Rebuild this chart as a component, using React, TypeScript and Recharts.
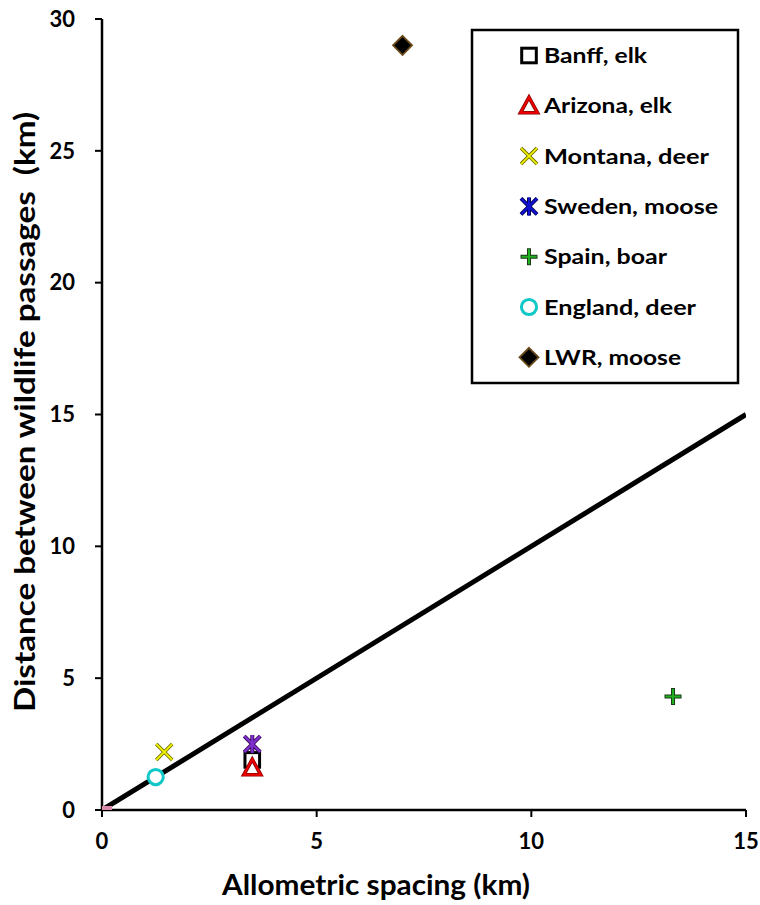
import React from "react";
import { ScatterChart, Scatter, XAxis, YAxis } from "recharts";

const seriesNames = ["Banff, elk", "Arizona, elk", "Montana, deer", "Sweden, moose", "Spain, boar", "England, deer", "LWR, moose"];
const banff = [{ x: 3.5, y: 1.9 }];
const arizona = [{ x: 3.5, y: 1.6 }];
const montana = [{ x: 1.45, y: 2.2 }];
const sweden = [{ x: 3.5, y: 2.5 }];
const spain = [{ x: 13.3, y: 4.3 }];
const england = [{ x: 1.25, y: 1.25 }];
const lwr = [{ x: 7.0, y: 29.0 }];
const origin = [{ x: 0, y: 0 }];
const oneToOne = [{ x: 0, y: 0 }, { x: 15, y: 15 }];
const xTicks = [0, 5, 10, 15];
const yTicks = [0, 5, 10, 15, 20, 25, 30];

const FONT = "Lato, 'Open Sans', sans-serif";
const legendTextWidths = [103, 128, 165, 174, 123, 152, 137];

const Square = (cx: number, cy: number) => (
  <rect x={cx - 7.3} y={cy - 7.3} width={14.6} height={14.6} fill="#fff" stroke="#000" strokeWidth={3} />
);
const Triangle = (cx: number, cy: number) => (
  <g>
    <polygon points={`${cx},${cy - 8.5} ${cx + 8.5},${cy + 7} ${cx - 8.5},${cy + 7}`} fill="#fff" stroke="#8a0000" strokeWidth={3.6} strokeLinejoin="miter" />
    <polygon points={`${cx},${cy - 8.5} ${cx + 8.5},${cy + 7} ${cx - 8.5},${cy + 7}`} fill="none" stroke="#F00000" strokeWidth={2} />
  </g>
);
const Cross = (cx: number, cy: number) => (
  <g>
    <path d={`M${cx - 8},${cy - 8}L${cx + 8},${cy + 8}M${cx - 8},${cy + 8}L${cx + 8},${cy - 8}`} stroke="#6b6b00" strokeWidth={3.6} />
    <path d={`M${cx - 8},${cy - 8}L${cx + 8},${cy + 8}M${cx - 8},${cy + 8}L${cx + 8},${cy - 8}`} stroke="#F0F000" strokeWidth={1.8} />
  </g>
);
const Star = (cx: number, cy: number, c: string, dark: string) => {
  const d = `M${cx - 8},${cy - 8}L${cx + 8},${cy + 8}M${cx - 8},${cy + 8}L${cx + 8},${cy - 8}M${cx},${cy - 9}L${cx},${cy + 9}`;
  return (
    <g>
      <path d={d} stroke={dark} strokeWidth={4} />
      <path d={d} stroke={c} strokeWidth={2.2} />
    </g>
  );
};
const Plus = (cx: number, cy: number) => (
  <g>
    <path d={`M${cx - 8.5},${cy}L${cx + 8.5},${cy}M${cx},${cy - 8.5}L${cx},${cy + 8.5}`} stroke="#1a3a1a" strokeWidth={4} />
    <path d={`M${cx - 7.5},${cy}L${cx + 7.5},${cy}M${cx},${cy - 7.5}L${cx},${cy + 7.5}`} stroke="#20B020" strokeWidth={2} />
  </g>
);
const Circle = (cx: number, cy: number) => (
  <circle cx={cx} cy={cy} r={7.6} fill="#fff" stroke="#10C8C8" strokeWidth={3} />
);
const Diamond = (cx: number, cy: number) => (
  <polygon points={`${cx},${cy - 9.5} ${cx + 9.5},${cy} ${cx},${cy + 9.5} ${cx - 9.5},${cy}`} fill="#000" stroke="#6a4a1a" strokeWidth={1.8} />
);

const shape = (fn: (cx: number, cy: number) => React.ReactElement) => (p: any) => fn(p.cx, p.cy);

const legendMarkers = [
  Square,
  Triangle,
  Cross,
  (cx: number, cy: number) => Star(cx, cy, "#1010D0", "#00004a"),
  Plus,
  Circle,
  Diamond,
];

export default function App() {
  return (
    <div style={{ position: "absolute", left: 0, top: 0, width: 760, height: 905, background: "#fff" }}>
      <ScatterChart width={760} height={905} margin={{ top: 19, right: 14, bottom: 35, left: 0 }}>
        <XAxis
          type="number"
          dataKey="x"
          domain={[0, 15]}
          ticks={xTicks}
          height={60}
          axisLine={{ stroke: "#000", strokeWidth: 2.5 }}
          tickLine={{ stroke: "#000", strokeWidth: 2 }}
          tickSize={7}
          tickMargin={16}
          tick={{ fill: "#000", fontSize: 22, fontWeight: 700, fontFamily: FONT }}
          allowDataOverflow
        />
        <YAxis
          type="number"
          dataKey="y"
          domain={[0, 30]}
          ticks={yTicks}
          width={102}
          axisLine={{ stroke: "#000", strokeWidth: 2.5 }}
          tickLine={{ stroke: "#000", strokeWidth: 2 }}
          tickSize={7}
          tickMargin={20}
          tick={{ fill: "#000", fontSize: 22, fontWeight: 700, fontFamily: FONT }}
          allowDataOverflow
        />
        <Scatter data={oneToOne} line={{ stroke: "#000", strokeWidth: 5 }} shape={() => <g />} isAnimationActive={false} />
        <Scatter data={origin} shape={(p: any) => <rect x={p.cx} y={p.cy - 4} width={10} height={7} fill="#D88AAA" />} isAnimationActive={false} />
        <Scatter name={seriesNames[0]} data={banff} shape={shape(Square)} isAnimationActive={false} />
        <Scatter name={seriesNames[1]} data={arizona} shape={shape(Triangle)} isAnimationActive={false} />
        <Scatter name={seriesNames[2]} data={montana} shape={shape(Cross)} isAnimationActive={false} />
        <Scatter name={seriesNames[3]} data={sweden} shape={shape((cx, cy) => Star(cx, cy, "#8030D0", "#3a0a5a"))} isAnimationActive={false} />
        <Scatter name={seriesNames[4]} data={spain} shape={shape(Plus)} isAnimationActive={false} />
        <Scatter name={seriesNames[5]} data={england} shape={shape(Circle)} isAnimationActive={false} />
        <Scatter name={seriesNames[6]} data={lwr} shape={shape(Diamond)} isAnimationActive={false} />
        <text x={376} y={895} textAnchor="middle" fontSize={28} fontWeight={700} fontFamily={FONT} fill="#000" textLength={308} lengthAdjust="spacingAndGlyphs">
          Allometric spacing (km)
        </text>
        <text x={0} y={0} transform="translate(35,412) rotate(-90)" textAnchor="middle" fontSize={28} fontWeight={700} fontFamily={FONT} fill="#000" textLength={600} lengthAdjust="spacingAndGlyphs" style={{ whiteSpace: "pre" }}>
          {"Distance between wildlife passages  (km)"}
        </text>
        <g>
          <rect x={472} y={30} width={266} height={353} fill="#fff" stroke="#000" strokeWidth={2.5} />
          {seriesNames.map((n, i) => {
            const cy = 55.5 + i * 50.3;
            return (
              <g key={n}>
                {legendMarkers[i](529, cy)}
                <text x={544} y={cy + 7.5} fontSize={21} fontWeight={700} fontFamily={FONT} fill="#000" textLength={legendTextWidths[i]} lengthAdjust="spacingAndGlyphs">
                  {n}
                </text>
              </g>
            );
          })}
        </g>
      </ScatterChart>
    </div>
  );
}
